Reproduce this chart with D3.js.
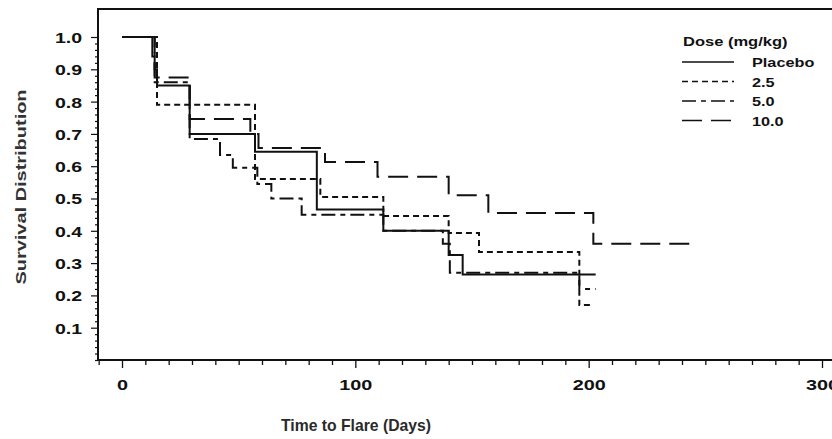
<!DOCTYPE html>
<html>
<head>
<meta charset="utf-8">
<script src="https://cdn.jsdelivr.net/npm/d3@7"></script>
<style>
  body { margin: 0; background: #fff; }
  svg { display: block; font-family: 'Liberation Sans', Arial, sans-serif; }
</style>
</head>
<body>
<div id="chart"></div>
<script>
// Kaplan-Meier step values (time in days, survival)
const placeboTimes = [0, 13, 14, 15, 29, 57, 83.5, 112, 140, 146, 203]
const placeboSurv = [1.0, 0.94, 0.9, 0.85, 0.7, 0.645, 0.466, 0.4, 0.325, 0.265, 0.265]

const dose25Times = [0, 15, 57, 85, 112, 140, 153, 196, 201.5]
const dose25Surv = [1.0, 0.79, 0.56, 0.505, 0.446, 0.393, 0.334, 0.17, 0.17]

const dose50Times = [0, 14, 29, 42, 47.5, 58, 64, 77, 112, 137.5, 140.5, 196, 203]
const dose50Surv = [1.0, 0.86, 0.684, 0.635, 0.595, 0.545, 0.5, 0.45, 0.4, 0.36, 0.27, 0.22, 0.22]

const dose100Times = [0, 14, 29, 55, 58.5, 87, 109.5, 140, 157, 202, 245]
const dose100Surv = [1.0, 0.875, 0.746, 0.7, 0.656, 0.613, 0.567, 0.51, 0.455, 0.36, 0.36]

const seriesNames = ['Placebo', '2.5', '5.0', '10.0']
const seriesDash = [null, '6,4', '14,5,5,5', '20,9']

const xTicks = [0, 100, 200, 300]
const yTicks = [0.1, 0.2, 0.3, 0.4, 0.5, 0.6, 0.7, 0.8, 0.9, 1.0]

const width = 832
const height = 439

const series = [
  [placeboTimes, placeboSurv],
  [dose25Times, dose25Surv],
  [dose50Times, dose50Surv],
  [dose100Times, dose100Surv]
].map(([t, s], i) => ({
  name: seriesNames[i],
  dash: seriesDash[i],
  points: t.map((d, j) => ({ t: d, s: s[j] }))
}))

// the original lettering is wide, stretch glyphs along the text direction
function stretch (sel, k) {
  sel.each(function () {
    const w = this.getComputedTextLength()
    if (w > 0) {
      this.setAttribute('textLength', w * k)
      this.setAttribute('lengthAdjust', 'spacingAndGlyphs')
    }
  })
}

const svg = d3.select('#chart').append('svg')
  .attr('width', width)
  .attr('height', height)

const x = d3.scaleLinear().domain([0, 300]).range([122, 822])
const y = d3.scaleLinear().domain([0, 1]).range([360, 37])

const frameLeft = 98
const frameTop = 9
const frameBottom = 360

// frame
svg.append('path')
  .attr('d', `M${width},${frameTop}H${frameLeft}V${frameBottom}H${width}`)
  .attr('fill', 'none')
  .attr('stroke', '#111')
  .attr('stroke-width', 2)

// x axis ticks
const xAxis = d3.axisBottom(x)
  .tickValues(d3.range(-20, 310, 10))
  .tickSize(5)
  .tickFormat(d => xTicks.includes(d) ? d : '')
const gx = svg.append('g')
  .attr('transform', `translate(0,${frameBottom})`)
  .call(xAxis)
gx.select('.domain').remove()
gx.selectAll('.tick')
  .filter(d => d < -10)
  .remove()
gx.selectAll('.tick line')
  .attr('stroke', '#111')
  .attr('stroke-width', 1.3)
  .attr('y2', d => xTicks.includes(d) ? 8 : 5)
gx.selectAll('.tick text')
  .attr('y', 19)
  .attr('font-size', 15)
  .attr('font-weight', 'bold')
  .attr('fill', '#111')
  .call(stretch, 1.32)

// y axis ticks
const yAxis = d3.axisLeft(y)
  .tickValues(d3.range(0, 51).map(i => i / 50))
  .tickSize(3)
  .tickFormat(d => yTicks.some(v => Math.abs(v - d) < 1e-9) ? d3.format('.1f')(d) : '')
const gy = svg.append('g')
  .attr('transform', `translate(${frameLeft},0)`)
  .call(yAxis)
gy.select('.domain').remove()
gy.selectAll('.tick line')
  .attr('stroke', '#111')
  .attr('stroke-width', 1.2)
  .attr('x2', d => yTicks.some(v => Math.abs(v - d) < 1e-9) ? -7 : -3)
gy.selectAll('.tick text')
  .attr('x', -16)
  .attr('dy', '0.36em')
  .attr('font-size', 15)
  .attr('font-weight', 'bold')
  .attr('fill', '#111')
  .call(stretch, 1.3)

// axis titles
svg.append('text')
  .attr('x', 356)
  .attr('y', 431)
  .attr('text-anchor', 'middle')
  .attr('font-size', 16.5)
  .attr('font-weight', 'bold')
  .attr('fill', '#2a2a2a')
  .attr('textLength', 150)
  .attr('lengthAdjust', 'spacingAndGlyphs')
  .text('Time to Flare (Days)')

svg.append('text')
  .attr('transform', 'translate(26,187) rotate(-90)')
  .attr('text-anchor', 'middle')
  .attr('font-size', 15)
  .attr('font-weight', 'bold')
  .attr('fill', '#333')
  .text('Survival Distribution')
  .call(stretch, 1.33)

// curves
const line = d3.line()
  .x(d => x(d.t))
  .y(d => y(d.s))
  .curve(d3.curveStepAfter)

svg.append('g')
  .selectAll('path')
  .data(series)
  .join('path')
  .attr('d', d => line(d.points))
  .attr('fill', 'none')
  .attr('stroke', '#111')
  .attr('stroke-width', 2)
  .attr('stroke-dasharray', d => d.dash)

// legend
const legend = svg.append('g')
legend.append('text')
  .attr('x', 683)
  .attr('y', 46)
  .attr('font-size', 12.5)
  .attr('font-weight', 'bold')
  .attr('fill', '#111')
  .text('Dose (mg/kg)')
  .call(stretch, 1.32)

const item = legend.selectAll('g.item')
  .data(series)
  .join('g')
  .attr('class', 'item')
  .attr('transform', (d, i) => `translate(0,${62 + i * 19.5})`)
item.append('line')
  .attr('x1', 682)
  .attr('x2', 734)
  .attr('stroke', '#111')
  .attr('stroke-width', 1.6)
  .attr('stroke-dasharray', d => d.dash)
item.append('text')
  .attr('x', 752)
  .attr('y', 5)
  .attr('font-size', 12.5)
  .attr('font-weight', 'bold')
  .attr('fill', '#111')
  .text(d => d.name)
  .call(stretch, 1.3)
</script>
</body>
</html>
